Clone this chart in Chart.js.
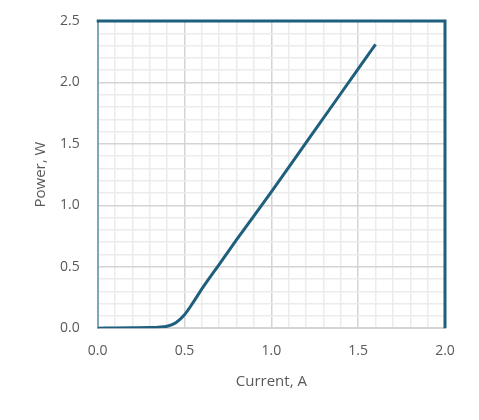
<!DOCTYPE html>
<html>
<head>
<meta charset="utf-8">
<script src="https://cdn.jsdelivr.net/npm/chart.js@4/dist/chart.umd.min.js"></script>
<style>
  html, body { margin: 0; padding: 0; background: #fff; }
  #wrap { width: 479px; height: 420px; }
</style>
</head>
<body>
<div id="wrap"><canvas id="chart"></canvas></div>
<script>
// data
const current = [0, 0.1, 0.2, 0.3, 0.35, 0.4, 0.45, 0.5, 0.55, 0.6, 0.7, 0.8, 1.0, 1.2, 1.4, 1.6];
const power   = [0, 0.002, 0.004, 0.006, 0.008, 0.016, 0.045, 0.11, 0.21, 0.32, 0.52, 0.72, 1.11, 1.51, 1.91, 2.31];

const lineColor = "#1d5f7c";
const majorGrid = "#d4d4d4";
const minorGrid = "#ececec";
const textColor = "#595959";

// top and right frame lines in dark teal
const framePlugin = {
  id: "frame",
  afterDraw(chart) {
    const { ctx, chartArea: a } = chart;
    ctx.save();
    ctx.strokeStyle = lineColor;
    ctx.lineWidth = 3;
    ctx.beginPath();
    ctx.moveTo(a.left - 1, a.top);
    ctx.lineTo(a.right, a.top);
    ctx.lineTo(a.right, a.bottom);
    ctx.stroke();
    ctx.restore();
  },
};

const isMajor = (v) => Math.abs(Math.round(v * 10) % 5) === 0;

new Chart(document.getElementById("chart"), {
  type: "line",
  data: {
    datasets: [
      {
        data: current.map((x, i) => ({ x: x, y: power[i] })),
        borderColor: lineColor,
        borderWidth: 3,
        pointRadius: 0,
        cubicInterpolationMode: "monotone",
        fill: false,
      },
    ],
  },
  options: {
    responsive: true,
    maintainAspectRatio: false,
    animation: false,
    layout: { padding: { top: 21, right: 34, left: 32, bottom: 29 } },
    plugins: { legend: { display: false }, tooltip: { enabled: false } },
    scales: {
      x: {
        type: "linear",
        min: 0,
        max: 2,
        border: { color: majorGrid, width: 2 },
        grid: {
          drawTicks: false,
          color: (c) => (isMajor(c.tick.value) ? majorGrid : minorGrid),
          lineWidth: 1.5,
        },
        ticks: {
          stepSize: 0.1,
          autoSkip: false,
          maxRotation: 0,
          padding: 14,
          color: textColor,
          font: { family: "Open Sans", size: 14 },
          callback: (v) => (isMajor(v) ? (Math.round(v * 10) / 10).toFixed(1) : ""),
        },
        title: {
          display: true,
          text: "Current, A",
          color: textColor,
          font: { family: "Open Sans", size: 15 },
          padding: { top: 0, bottom: 0 },
        },
      },
      y: {
        min: 0,
        max: 2.5,
        border: { color: "#7ea6ba", width: 2 },
        afterFit: (axis) => {
          axis.width -= 8;
          axis.paddingTop = 0;
        },
        grid: {
          drawTicks: false,
          color: (c) => (isMajor(c.tick.value) ? majorGrid : minorGrid),
          lineWidth: 1.5,
        },
        ticks: {
          stepSize: 0.1,
          autoSkip: false,
          padding: 18,
          color: textColor,
          font: { family: "Open Sans", size: 14 },
          callback: (v) => (isMajor(v) ? (Math.round(v * 10) / 10).toFixed(1) : ""),
        },
        title: {
          display: true,
          text: "Power, W",
          color: textColor,
          font: { family: "Open Sans", size: 15 },
          padding: { top: 0, bottom: 0 },
        },
      },
    },
  },
  plugins: [framePlugin],
});
</script>
</body>
</html>
